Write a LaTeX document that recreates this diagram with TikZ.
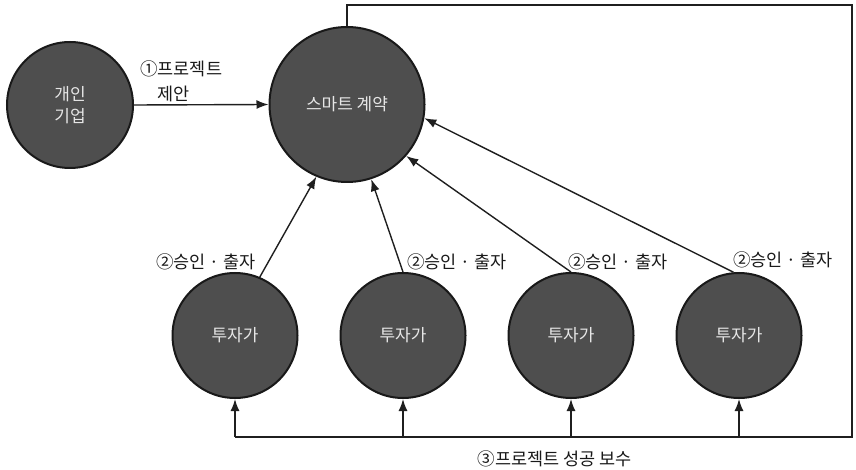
\documentclass[tikz,border=0pt]{standalone}
\usepackage{fontspec}
\setmainfont{Noto Sans CJK KR}
\usetikzlibrary{arrows.meta}
\definecolor{discfill}{HTML}{4E4E4E}
\definecolor{disctext}{HTML}{E6E6E6}
\begin{document}
\begin{tikzpicture}[x=1pt,y=-1pt,
  party/.style={circle, draw=black!90, line width=2pt, fill=discfill,
    text=disctext, font=\fontsize{17}{22}\selectfont, align=center, inner sep=0pt},
  wire/.style={line width=1.4pt, black!88},
  flow/.style={wire, -{Latex[length=12pt,width=9pt]}},
  lbl/.style={font=\fontsize{17.5}{25}\selectfont, text=black!90, inner sep=0pt}]
\useasboundingbox (0,0) rectangle (856,470);

% participants
\node[party, minimum size=126pt] (firm) at (70,105) {개인\\기업};
\node[party, minimum size=155pt] (sc) at (347,104.5) {스마트 계약};
\foreach \i/\x in {1/235,2/403,3/571,4/739}
  \node[party, minimum size=125pt] (inv\i) at (\x,335.5) {투자가};

% step 1: proposal
\draw[flow] (firm.east) -- (sc.west);
\node[lbl, anchor=west, align=left] (prop) at (140,81) {①프로젝트\\\phantom{①}제안};

% step 2: approval and investment
\draw[flow] (inv1.67) -- (sc.247);
\draw[flow] (inv2.north) -- (sc.288);
\draw[flow] (inv3.north) -- (sc.319);
\draw[flow] (inv4.95) -- (sc.350);
\node[lbl, anchor=east] (ap1) at (256,262) {②승인 · 출자};
\node[lbl, anchor=west] (ap2) at (407,262) {②승인 · 출자};
\node[lbl, anchor=west] (ap3) at (568,262) {②승인 · 출자};
\node[lbl, anchor=west] (ap4) at (733,260) {②승인 · 출자};

% step 3: reward loop back to the investors
\coordinate (rt) at (852,5);
\coordinate (rb) at (852,437);
\coordinate (bl) at (235,437);
\draw[wire] (sc.north) |- (rt) -- (rb) -- (bl);
\foreach \i in {1,...,4}
  \draw[flow] (inv\i.south |- bl) -- (inv\i.south);
\node[lbl] (reward) at (555,459) {③프로젝트 성공 보수};
\end{tikzpicture}
\end{document}
